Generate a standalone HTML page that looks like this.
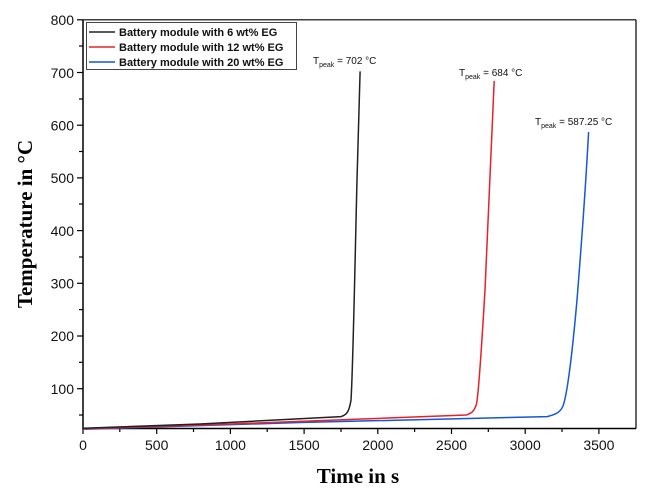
<!DOCTYPE html>
<html><head><style>body{margin:0;background:#fff}svg{display:block}</style></head><body>
<svg width="651" height="495" xmlns="http://www.w3.org/2000/svg" font-family="Liberation Sans, sans-serif">
<rect width="651" height="495" fill="#fff"/>
<g stroke="#000" stroke-width="1.5" fill="none">
<polyline points="83,19.8 83,428.5 636,428.5"/>
<line x1="83" y1="19.8" x2="636" y2="19.8" stroke-width="1.2"/>
<line x1="636" y1="19.8" x2="636" y2="428.5" stroke-width="1.2"/>
</g>
<g stroke="#000" stroke-width="1.2">
<line x1="77" y1="19.8" x2="83" y2="19.8"/><line x1="77" y1="72.5" x2="83" y2="72.5"/>
<line x1="77" y1="125.2" x2="83" y2="125.2"/><line x1="77" y1="177.9" x2="83" y2="177.9"/>
<line x1="77" y1="230.6" x2="83" y2="230.6"/><line x1="77" y1="283.3" x2="83" y2="283.3"/>
<line x1="77" y1="336" x2="83" y2="336"/><line x1="77" y1="388.7" x2="83" y2="388.7"/>
<line x1="79" y1="46" x2="83" y2="46"/><line x1="79" y1="99" x2="83" y2="99"/><line x1="79" y1="151.5" x2="83" y2="151.5"/><line x1="79" y1="204" x2="83" y2="204"/><line x1="79" y1="257" x2="83" y2="257"/><line x1="79" y1="309.6" x2="83" y2="309.6"/><line x1="79" y1="362.3" x2="83" y2="362.3"/><line x1="79" y1="415" x2="83" y2="415"/>
<line x1="83" y1="428" x2="83" y2="434"/><line x1="156.7" y1="428" x2="156.7" y2="434"/><line x1="230.4" y1="428" x2="230.4" y2="434"/><line x1="304.1" y1="428" x2="304.1" y2="434"/><line x1="377.8" y1="428" x2="377.8" y2="434"/><line x1="451.5" y1="428" x2="451.5" y2="434"/><line x1="525.2" y1="428" x2="525.2" y2="434"/><line x1="598.9" y1="428" x2="598.9" y2="434"/>
<line x1="119.8" y1="428" x2="119.8" y2="432"/><line x1="193.5" y1="428" x2="193.5" y2="432"/><line x1="267.2" y1="428" x2="267.2" y2="432"/><line x1="341" y1="428" x2="341" y2="432"/><line x1="414.6" y1="428" x2="414.6" y2="432"/><line x1="488.3" y1="428" x2="488.3" y2="432"/><line x1="562" y1="428" x2="562" y2="432"/>
</g>
<g font-size="14" fill="#111" text-anchor="end">
<text x="74" y="25">800</text><text x="74" y="78">700</text><text x="74" y="130.5">600</text><text x="74" y="183">500</text><text x="74" y="236">400</text><text x="74" y="288.5">300</text><text x="74" y="341">200</text><text x="74" y="394">100</text>
</g>
<g font-size="14" fill="#111" text-anchor="middle">
<text x="83" y="450">0</text><text x="156.7" y="450">500</text><text x="230.4" y="450">1000</text><text x="304.1" y="450">1500</text><text x="377.8" y="450">2000</text><text x="451.5" y="450">2500</text><text x="525.2" y="450">3000</text><text x="598.9" y="450">3500</text>
</g>
<text x="358" y="483" font-family="Liberation Serif, serif" font-weight="bold" font-size="21" text-anchor="middle">Time in s</text>
<text transform="translate(32,224) rotate(-90)" font-family="Liberation Serif, serif" font-weight="bold" font-size="21" text-anchor="middle">Temperature in °C</text>
<g fill="none" stroke-width="1.5">
<path d="M83,429.3 L300,422.5 L547.3,416.6 C555,414.5 560,413 563,406 C568,392 573,345 577,300 C581,250 586,180 588.6,132" stroke="#1557d6"/>
<path d="M83,428.8 L230.4,424 L466.2,415 C471,413.5 474,412 476.5,404 C479,392 482,340 485,290 C488,220 491,150 494.2,80.9" stroke="#e8202a"/>
<path d="M83,428.2 L200,424 L341,416.6 C346,415 349,413 351,400 C353,370 355,260 357,180 L360.1,71.4" stroke="#222"/>
</g>
<rect x="86.5" y="22.5" width="210" height="47" fill="#fff" stroke="#444" stroke-width="1"/>
<g stroke-width="1.5">
<line x1="89" y1="32" x2="115" y2="32" stroke="#222"/>
<line x1="89" y1="47" x2="115" y2="47" stroke="#e8202a"/>
<line x1="89" y1="62" x2="115" y2="62" stroke="#1557d6"/>
</g>
<g font-size="11" font-weight="bold" fill="#111">
<text x="119" y="36">Battery module with 6 wt% EG</text>
<text x="119" y="51">Battery module with 12 wt% EG</text>
<text x="119" y="66">Battery module with 20 wt% EG</text>
</g>
<g font-size="10" fill="#111">
<text x="313" y="64">T<tspan font-size="7" dy="3">peak</tspan><tspan dy="-3"> = 702 °C</tspan></text>
<text x="459" y="76">T<tspan font-size="7" dy="3">peak</tspan><tspan dy="-3"> = 684 °C</tspan></text>
<text x="535" y="125">T<tspan font-size="7" dy="3">peak</tspan><tspan dy="-3"> = 587.25 °C</tspan></text>
</g>
</svg>
</body></html>
